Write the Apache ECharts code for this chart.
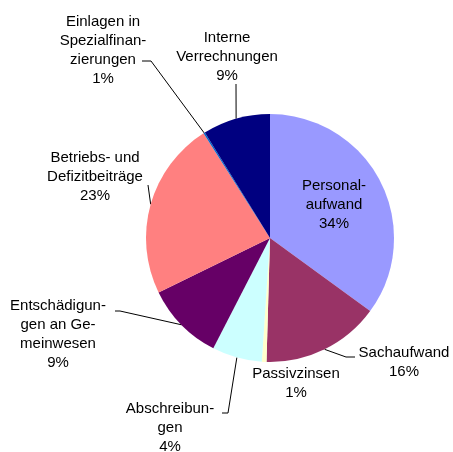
<!DOCTYPE html>
<html>
<head>
<meta charset="utf-8">
<script src="https://cdn.jsdelivr.net/npm/echarts@6/dist/echarts.min.js"></script>
<style>
  html, body { margin: 0; padding: 0; background: #fff; }
  #main { width: 453px; height: 452px; }
</style>
</head>
<body>
<div id="main"></div>
<script>
// slice names (with the line breaks used in the picture)
var names = [
    'Personal-\naufwand',
    'Sachaufwand',
    'Passivzinsen',
    'Abschreibun-\ngen',
    'Entschädigun-\ngen an Ge-\nmeinwesen',
    'Betriebs- und\nDefizitbeiträge',
    'Einlagen in\nSpezialfinan-\nzierungen',
    'Interne\nVerrechnungen'
];
// slice sizes (share of the circle, %)
var shares = [35.0, 15.4, 0.6, 6.5, 10.2, 23.2, 0.2, 8.8];
// percent text printed next to each slice
var pctLabels = ['34%', '16%', '1%', '4%', '9%', '23%', '1%', '9%'];
var colors = ['#9999FF', '#993366', '#FFFFCC', '#CCFFFF', '#660066', '#FF8080', '#0066CC', '#000080'];

// label placement (centre of text block) and leader line bends
var labelPos = [[334, 205], [404, 362], [296, 383], [170, 428], [58, 334], [95, 177], [103, 50], [227, 57]];
var lineBends = [
    null,
    [[346, 357], [355, 357]],
    null,
    [[228, 413], [222, 413]],
    [[120, 311], [115, 311]],
    [[148, 185]],
    [[151, 61], [142, 61]],
    [[236, 84]]
];

var cx = 270, cy = 238, r = 124;

var myChart = echarts.init(document.getElementById('main'));

var data = names.map(function (n, i) {
    var item = {
        value: shares[i],
        name: n,
        itemStyle: { color: colors[i] }
    };
    if (!lineBends[i]) {
        item.labelLine = { show: false };
    }
    return item;
});

var option = {
    animation: false,
    series: [
        {
            type: 'pie',
            center: [cx, cy],
            radius: r,
            startAngle: 90,
            clockwise: true,
            avoidLabelOverlap: false,
            data: data,
            itemStyle: { borderWidth: 0 },
            label: {
                show: true,
                position: 'outside',
                overflow: 'none',
                fontFamily: 'Liberation Sans',
                fontSize: 15,
                lineHeight: 19,
                color: '#000',
                align: 'center',
                formatter: function (p) {
                    return p.name + '\n' + pctLabels[p.dataIndex];
                }
            },
            labelLine: {
                show: true,
                lineStyle: { color: '#000', width: 1 }
            },
            labelLayout: function (params) {
                var i = params.dataIndex;
                var res = {
                    x: labelPos[i][0],
                    y: labelPos[i][1],
                    align: 'center',
                    verticalAlign: 'middle'
                };
                if (lineBends[i] && params.labelLinePoints) {
                    var start = params.labelLinePoints[0];
                    res.labelLinePoints = [start].concat(lineBends[i]);
                }
                return res;
            }
        }
    ]
};
myChart.setOption(option);
</script>
</body>
</html>
